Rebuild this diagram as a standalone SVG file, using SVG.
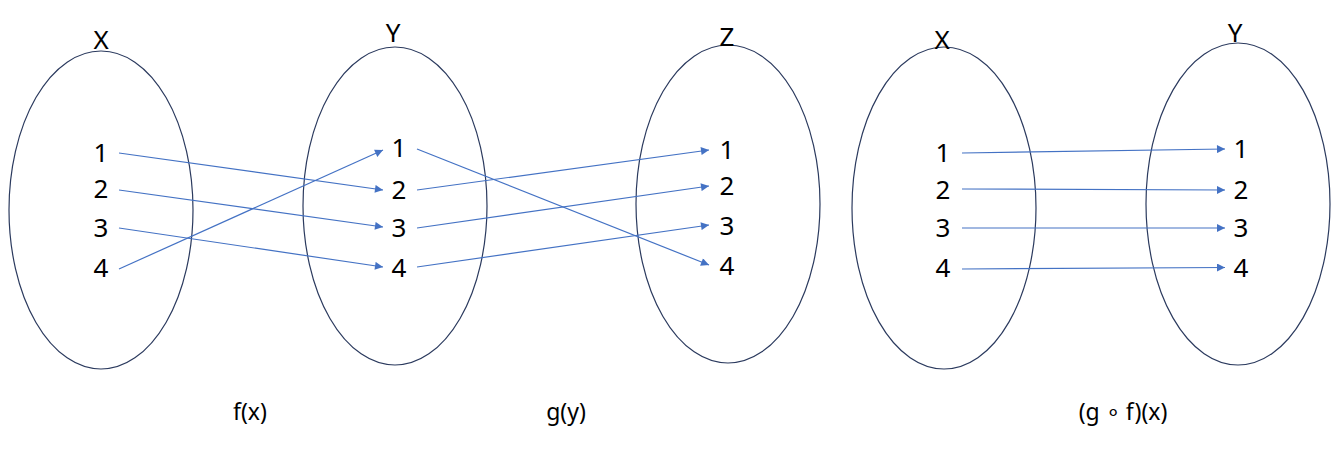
<svg xmlns="http://www.w3.org/2000/svg" width="1344" height="463" viewBox="0 0 1344 463">
<style>
.set{fill:none;stroke:#2b3a5e;stroke-width:1.2}
.num{font-family:"Noto Sans","Open Sans",sans-serif;font-size:26px;fill:#000;text-anchor:middle}
.lbl{font-family:"Noto Sans","Open Sans",sans-serif;font-size:26px;fill:#000;text-anchor:middle}
.cap{font-family:"Noto Sans","Open Sans",sans-serif;font-size:23px;fill:#000;text-anchor:middle}
.arr{stroke:#4472c4;stroke-width:1.2;fill:none;marker-end:url(#ah)}
</style>
<defs>
<marker id="ah" viewBox="0 0 10 10" refX="10" refY="5" markerWidth="10" markerHeight="8" markerUnits="userSpaceOnUse" orient="auto">
<path d="M0,0 L10,5 L0,10 Z" fill="#4472c4"/>
</marker>
</defs>
<rect width="1344" height="463" fill="#fff"/>
<g id="setX1">
<ellipse class="set" cx="101" cy="210" rx="92" ry="159"/>
<text class="lbl" x="101" y="49">X</text>
<text class="num" x="101" y="162">1</text>
<text class="num" x="101" y="198">2</text>
<text class="num" x="101" y="237">3</text>
<text class="num" x="101" y="277">4</text>
</g>
<g id="setY1">
<ellipse class="set" cx="395" cy="206" rx="92" ry="159"/>
<text class="lbl" x="393" y="42">Y</text>
<text class="num" x="399" y="157">1</text>
<text class="num" x="399" y="199">2</text>
<text class="num" x="399" y="237">3</text>
<text class="num" x="399" y="277">4</text>
</g>
<g id="setZ">
<ellipse class="set" cx="728" cy="204" rx="92" ry="159"/>
<text class="lbl" x="727" y="46">Z</text>
<text class="num" x="727" y="159">1</text>
<text class="num" x="727" y="195">2</text>
<text class="num" x="727" y="235">3</text>
<text class="num" x="727" y="275">4</text>
</g>
<g id="setX2">
<ellipse class="set" cx="944" cy="208" rx="92" ry="161"/>
<text class="lbl" x="942" y="49">X</text>
<text class="num" x="943" y="162">1</text>
<text class="num" x="943" y="199">2</text>
<text class="num" x="943" y="237">3</text>
<text class="num" x="943" y="277">4</text>
</g>
<g id="setY2">
<ellipse class="set" cx="1238" cy="204" rx="92" ry="161"/>
<text class="lbl" x="1235" y="42">Y</text>
<text class="num" x="1241" y="158">1</text>
<text class="num" x="1241" y="199">2</text>
<text class="num" x="1241" y="237">3</text>
<text class="num" x="1241" y="277">4</text>
</g>
<g id="connectors">
<line class="arr" x1="119" y1="153" x2="383" y2="190"/>
<line class="arr" x1="119" y1="190" x2="383" y2="227"/>
<line class="arr" x1="119" y1="228" x2="383" y2="267"/>
<line class="arr" x1="119" y1="269" x2="383" y2="150"/>
<line class="arr" x1="417" y1="149" x2="709" y2="265"/>
<line class="arr" x1="417" y1="190" x2="709" y2="150"/>
<line class="arr" x1="417" y1="228" x2="709" y2="186"/>
<line class="arr" x1="417" y1="267" x2="709" y2="225"/>
<line class="arr" x1="962" y1="153" x2="1225" y2="149"/>
<line class="arr" x1="962" y1="189" x2="1225" y2="190"/>
<line class="arr" x1="962" y1="228" x2="1225" y2="228"/>
<line class="arr" x1="962" y1="269" x2="1225" y2="267.5"/>
</g>
<g id="captions">
<text class="cap" x="250" y="420">f(x)</text>
<text class="cap" x="566" y="420">g(y)</text>
<text class="cap" x="1123" y="420">(g ∘ f)(x)</text>
</g>
</svg>
